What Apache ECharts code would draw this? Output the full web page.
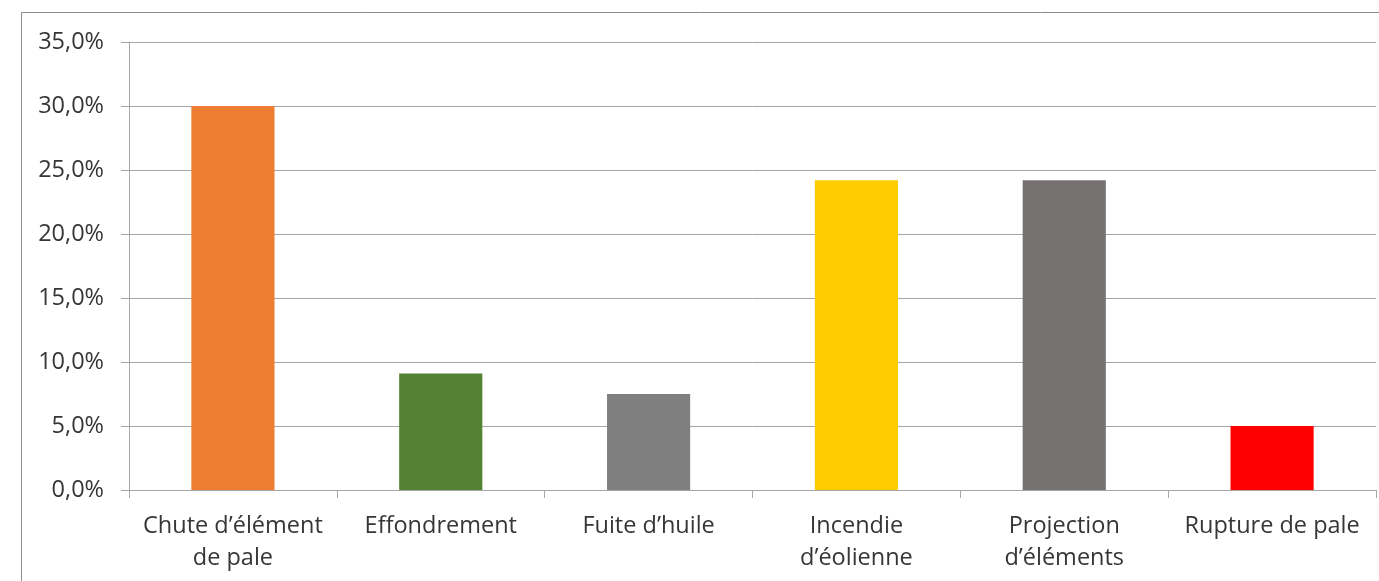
<!DOCTYPE html>
<html>
<head>
<meta charset="utf-8">
<script src="https://cdn.jsdelivr.net/npm/echarts@6/dist/echarts.min.js"></script>
<style>
html,body{margin:0;padding:0;background:#fff;}
#chart{width:1379px;height:581px;}
</style>
</head>
<body>
<div id="chart"></div>
<script>
const categories = ["Chute d’élément\nde pale", "Effondrement", "Fuite d’huile", "Incendie\nd’éolienne", "Projection\nd’éléments", "Rupture de pale"];
const values = [30.0, 9.1, 7.5, 24.2, 24.2, 5.0];
const barColors = ["#ED7D31", "#548235", "#7F7F7F", "#FFCC00", "#767171", "#FF0000"];
const yTicks = { min: 0, max: 35, interval: 5 };

const chart = echarts.init(document.getElementById('chart'), null, {renderer: 'canvas'});
const font = "'Open Sans', sans-serif";
chart.setOption({
  animation: false,
  graphic: [{
    type: 'rect',
    shape: { x: 21.5, y: 12.5, width: 1400, height: 700 },
    style: { fill: 'none', stroke: '#8c8c8c', lineWidth: 1 },
    silent: true
  }],
  grid: { left: 129, right: 3, top: 42, bottom: 91 },
  xAxis: {
    type: 'category',
    data: categories,
    axisLine: { lineStyle: { color: '#a6a6a6', width: 1 } },
    axisTick: { show: true, length: 8, alignWithLabel: false, lineStyle: { color: '#a6a6a6' } },
    axisLabel: {
      color: '#363636', fontFamily: font, fontSize: 23.5, lineHeight: 32, margin: 20, interval: 0
    }
  },
  yAxis: {
    type: 'value',
    min: yTicks.min, max: yTicks.max, interval: yTicks.interval,
    axisLine: { show: true, lineStyle: { color: '#a6a6a6', width: 1 } },
    axisTick: { show: true, length: 8, lineStyle: { color: '#a6a6a6' } },
    splitLine: { show: true, lineStyle: { color: '#a6a6a6', width: 1 } },
    axisLabel: {
      color: '#363636', fontFamily: font, fontSize: 23.5, margin: 25,
      formatter: v => v.toFixed(1).replace('.', ',') + '%'
    }
  },
  series: [{
    type: 'bar',
    data: values.map((v, i) => ({ value: v, itemStyle: { color: barColors[i] } })),
    barWidth: '40%'
  }]
});
</script>
</body>
</html>
